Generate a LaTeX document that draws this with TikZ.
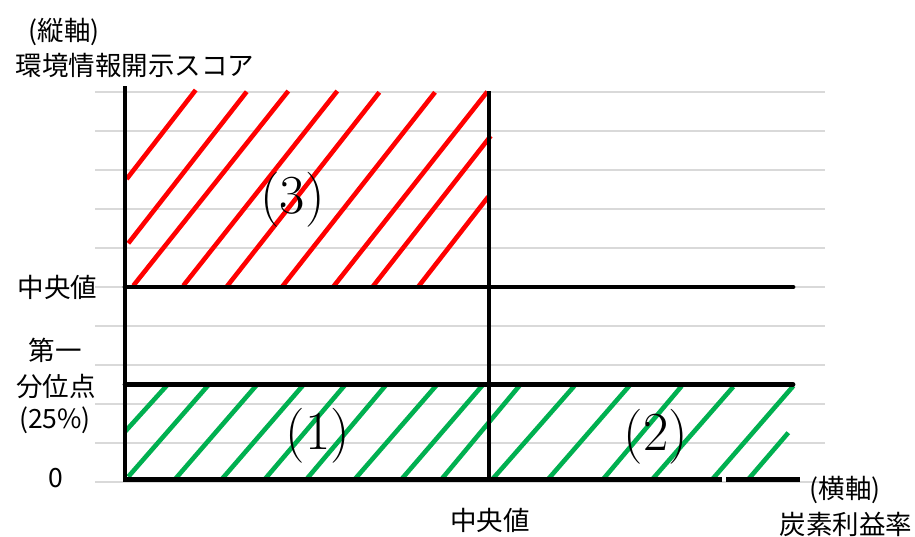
\documentclass[tikz,border=0pt]{standalone}
\usepackage{fontspec}
\newfontfamily\jp{Noto Sans CJK JP}
\definecolor{gridgray}{HTML}{D9D9D9}
\definecolor{hatchgreen}{HTML}{00B050}
\definecolor{hatchred}{HTML}{FF0000}
\begin{document}
\begin{tikzpicture}[x=1pt,y=-1pt,
  gridline/.style={draw=gridgray,line width=1.6pt},
  axisline/.style={draw=black,line width=4.8pt},
  redhatch/.style={draw=hatchred,line width=4.6pt},
  greenhatch/.style={draw=hatchgreen,line width=4.6pt},
  jplabel/.style={font=\jp\fontsize{26.5}{30}\selectfont, inner sep=0pt},
  regionlabel/.style={font=\fontsize{55}{60}\selectfont, inner sep=0pt}]
\useasboundingbox (0,0) rectangle (915,536);
% grid
\foreach \k in {0,...,10} {
  \draw[gridline] (95,92+39*\k) -- (825,92+39*\k);
}
% red hatching (3)
\foreach \a/\b/\c/\d in {126.7/179/195.7/90, 128.3/243.3/246.7/91.7, 133.3/285.7/288.3/91,
  183.3/285.7/337.3/91, 226.7/286.7/379.3/92.3, 281.7/287.3/435/92.3,
  333.3/286.7/487.3/91.7, 372.7/286.7/490.7/136, 418.3/286.7/488.3/196.7} {
  \draw[redhatch] (\a,\b) -- (\c,\d);
}
% green hatching (1),(2)
\foreach \a/\b/\c/\d in {125/431.7/167.3/385, 128.3/476.7/209.3/384, 175/479.3/256.7/385,
  221.7/479.3/303.3/385, 265/479/345/385, 306.7/479/386/385, 355/479/436.7/385,
  401.7/479/482.7/385, 441.7/479/520/385, 491.7/480/574.3/386, 548.3/479/630/385,
  603.3/479/681.7/386, 651.7/480/733.3/386.7, 711.7/480/793.3/386, 748.3/479.3/788.3/432.7} {
  \draw[greenhatch] (\a,\b) -- (\c,\d);
}
% axes and boundaries
\coordinate (ytop) at (125,86);
\coordinate (origin) at (125,479.5);
\coordinate (mtop) at (489,91);
\coordinate (mbot) at (489,482);
\coordinate (medL) at (125,287);
\coordinate (medR) at (793,287);
\coordinate (q1L) at (125,384.5);
\coordinate (q1R) at (793,384.5);
\coordinate (gapL) at (722,479.5);
\coordinate (gapR) at (726,479.5);
\coordinate (xend) at (800,479.5);
\draw[axisline] (ytop) -- (125,482);
\draw[axisline] (mtop) -- (mbot);
\draw[axisline,line cap=round] (medL) -- (medR);
\draw[axisline,line cap=round] (q1L) -- (q1R);
\draw[axisline] (origin) -- (gapL);
\draw[axisline] (gapR) -- (xend);
% labels
\node[jplabel] (yax) at (64,32) {(縦軸)};
\node[jplabel] (ytitle) at (135,65.5) {環境情報開示スコア};
\node[jplabel] (ymed) at (57.5,287.5) {中央値};
\node[jplabel] (yq1a) at (55,350.5) {第一};
\node[jplabel] (yq1b) at (56,386) {分位点};
\node[jplabel] (yq1c) at (55,420) {(25\%)};
\node[jplabel] (yzero) at (56,478) {0};
\node[jplabel] (xmed) at (490,520) {中央値};
\node[jplabel] (xax) at (845,490) {(横軸)};
\node[jplabel] (xtitle) at (846,524) {炭素利益率};
\node[regionlabel] (r3) at (292.5,200) {(3)};
\node[regionlabel] (r1) at (318,436) {(1)};
\node[regionlabel] (r2) at (656,436.5) {(2)};
\end{tikzpicture}
\end{document}
